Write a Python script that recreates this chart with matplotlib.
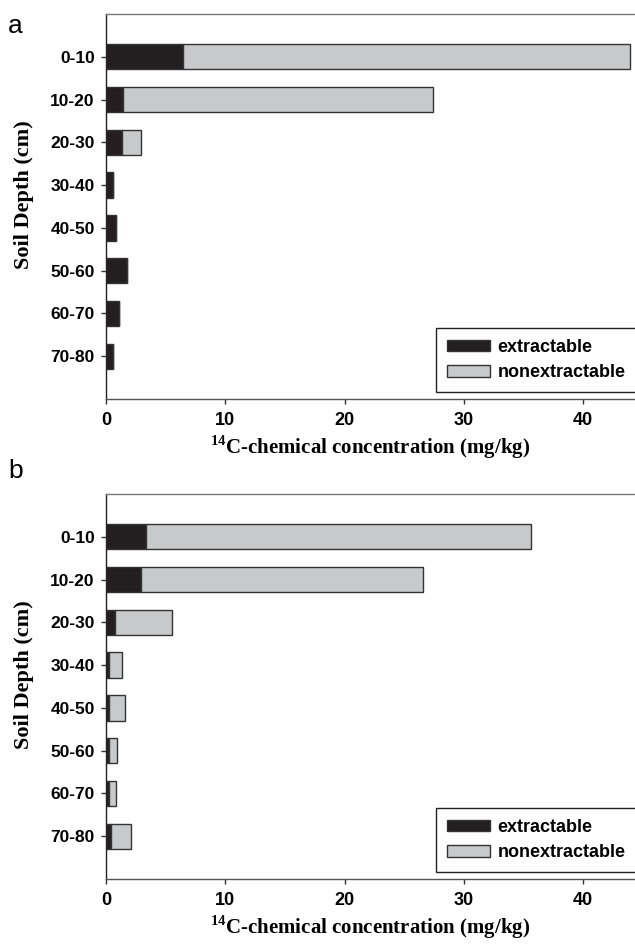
import matplotlib.pyplot as plt
from matplotlib.patches import Patch

# Datos
depths = ['0-10', '10-20', '20-30', '30-40', '40-50', '50-60', '60-70', '70-80']

a_extractable = [6.48, 1.40, 1.31, 0.61, 0.87, 1.79, 1.09, 0.61]
a_nonextractable = [37.4, 26.0, 1.60, 0.0, 0.0, 0.0, 0.0, 0.0]

b_extractable = [3.35, 2.96, 0.78, 0.22, 0.28, 0.25, 0.25, 0.42]
b_nonextractable = [32.3, 23.64, 4.73, 1.12, 1.29, 0.65, 0.61, 1.65]

x_ticks = [0, 10, 20, 30, 40]

dark = '#231f20'
light = '#c8c9cb'

plt.rcParams['mathtext.fontset'] = 'custom'
plt.rcParams['mathtext.rm'] = 'Liberation Serif:bold'

# --------------------------------------------------------

def draw_panel(ax, extractable, nonextractable):
    pos = list(range(len(depths)))
    ax.barh(pos, extractable, height=0.59, color=dark, edgecolor='#333333', linewidth=1.0)
    ax.barh(pos, nonextractable, left=extractable, height=0.59, color=light,
            edgecolor='#333333', linewidth=1.0)

    ax.set_ylim(8, -1)
    ax.set_xlim(0, 44.34)
    ax.set_yticks(pos)
    ax.set_yticklabels(depths, fontfamily='Liberation Sans', fontweight='bold', fontsize=12.5)
    ax.set_xticks(x_ticks)
    ax.set_xticklabels([str(t) for t in x_ticks], fontfamily='Liberation Sans',
                       fontweight='bold', fontsize=13)
    ax.tick_params(direction='out', length=3.6, width=1, pad=4.5, color='#333333')
    ax.tick_params(axis='x', pad=6)

    ax.spines['right'].set_visible(False)
    for s in ['left', 'bottom', 'top']:
        ax.spines[s].set_linewidth(1.0)
    ax.spines['top'].set_color('#777777')
    ax.spines['left'].set_color('#222222')
    ax.spines['bottom'].set_color('#555555')

    ax.set_ylabel('Soil Depth (cm)', fontfamily='Liberation Serif', fontweight='bold',
                  fontsize=16)
    ax.yaxis.set_label_coords(-0.136, 0.53)
    ax.set_xlabel(r'$^{\mathrm{14}}$C-chemical concentration (mg/kg)',
                  fontfamily='Liberation Serif', fontweight='bold', fontsize=15, labelpad=3)

    handles = [Patch(facecolor=dark, edgecolor='#333333', label='extractable'),
               Patch(facecolor=light, edgecolor='#333333', label='nonextractable')]
    leg = ax.legend(handles=handles, loc='lower left', bbox_to_anchor=(0.624, 0.018),
                    prop={'family': 'Liberation Sans', 'weight': 'bold', 'size': 13},
                    fancybox=False, framealpha=1, edgecolor='#222222',
                    handlelength=2.4, handleheight=0.6, handletextpad=0.4,
                    borderpad=0.6, labelspacing=0.45, borderaxespad=0.0)
    leg.get_frame().set_linewidth(1.0)


def main():
    fig = plt.figure(figsize=(6.35, 9.47), dpi=100)
    ax_a = fig.add_axes([106 / 635, 1 - 399 / 947, 529 / 635, 385 / 947])
    ax_b = fig.add_axes([106 / 635, 1 - 879 / 947, 529 / 635, 385 / 947])

    draw_panel(ax_a, a_extractable, a_nonextractable)
    draw_panel(ax_b, b_extractable, b_nonextractable)

    # letras de panel
    fig.text(8 / 635, 1 - 33 / 947, 'a', fontfamily='Liberation Sans', fontsize=19,
             va='baseline', ha='left')
    fig.text(8 / 635, 1 - 478 / 947, 'b', fontfamily='Liberation Sans', fontsize=19,
             va='baseline', ha='left')

    fig.savefig('out.png', dpi=100)


if __name__ == "__main__":
    main()
